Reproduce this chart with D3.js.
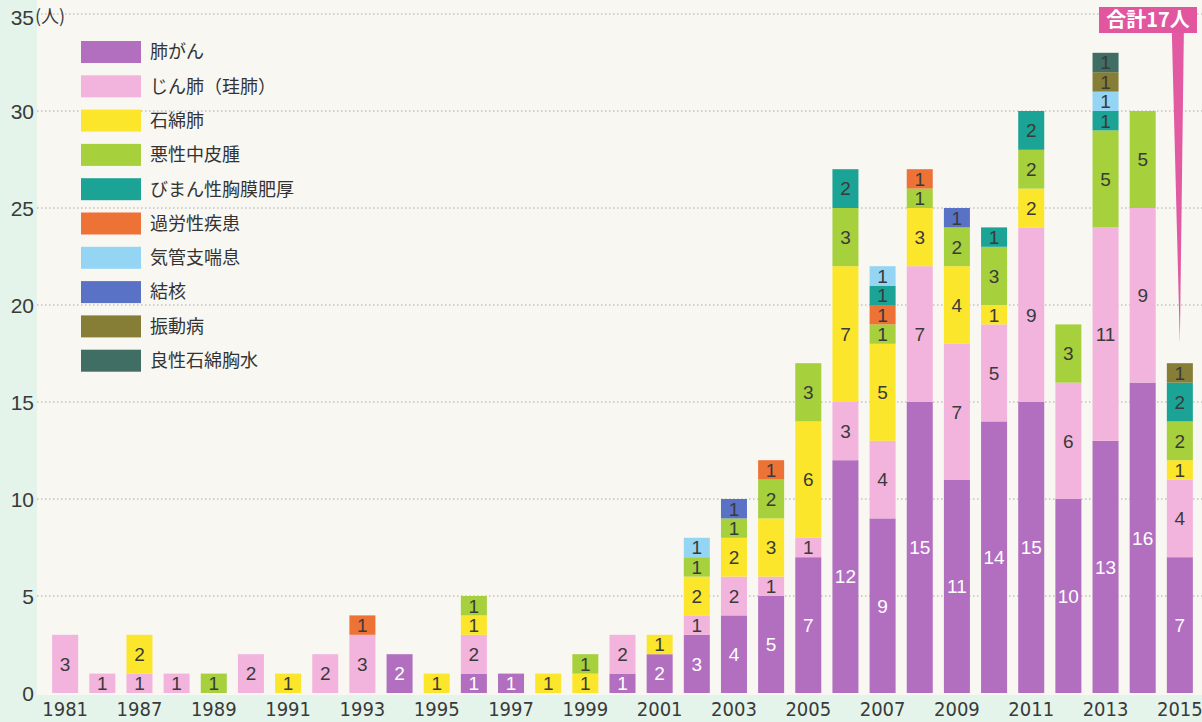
<!DOCTYPE html>
<html><head><meta charset="utf-8">
<script src="https://cdn.jsdelivr.net/npm/d3@7"></script>
<style>body{margin:0;background:#e4f4ea;} svg{display:block;}</style>
</head><body>
<svg id="chart" width="1202" height="722"></svg>
<script>
// ---- data ----
const years = [1981,1986,1987,1988,1989,1990,1991,1992,1993,1994,1995,1996,1997,1998,1999,2000,2001,2002,2003,2004,2005,2006,2007,2008,2009,2010,2011,2012,2013,2014,2015];
const categories = ["肺がん","じん肺（珪肺）","石綿肺","悪性中皮腫","びまん性胸膜肥厚","過労性疾患","気管支喘息","結核","振動病","良性石綿胸水"];
const lungCancer   = [0,0,0,0,0,0,0,0,0,2,0,1,1,0,0,1,2,3,4,5,7,12,9,15,11,14,15,10,13,16,7];
const pneumoconiosis=[3,1,1,1,0,2,0,2,3,0,0,2,0,0,0,2,0,1,2,1,1,3,4,7,7,5,9,6,11,9,4];
const asbestosis   = [0,0,2,0,0,0,1,0,0,0,1,1,0,1,1,0,1,2,2,3,6,7,5,3,4,1,2,0,0,0,1];
const mesothelioma = [0,0,0,0,1,0,0,0,0,0,0,1,0,0,1,0,0,1,1,2,3,3,1,1,2,3,2,3,5,5,2];
const pleuralThick = [0,0,0,0,0,0,0,0,0,0,0,0,0,0,0,0,0,0,0,0,0,2,1,0,0,1,2,0,1,0,2];
const overwork     = [0,0,0,0,0,0,0,0,1,0,0,0,0,0,0,0,0,0,0,1,0,0,1,1,0,0,0,0,0,0,0];
const asthma       = [0,0,0,0,0,0,0,0,0,0,0,0,0,0,0,0,0,1,0,0,0,0,1,0,0,0,0,0,1,0,0];
const tuberculosis = [0,0,0,0,0,0,0,0,0,0,0,0,0,0,0,0,0,0,1,0,0,0,0,0,1,0,0,0,0,0,0];
const vibration    = [0,0,0,0,0,0,0,0,0,0,0,0,0,0,0,0,0,0,0,0,0,0,0,0,0,0,0,0,1,0,1];
const pleuralEffusion=[0,0,0,0,0,0,0,0,0,0,0,0,0,0,0,0,0,0,0,0,0,0,0,0,0,0,0,0,1,0,0];
const seriesValues = [lungCancer,pneumoconiosis,asbestosis,mesothelioma,pleuralThick,overwork,asthma,tuberculosis,vibration,pleuralEffusion];
// stacking order exception (category indices bottom->top)
const orderOverrideYear = 2007;
const orderOverride = [0,1,2,3,5,4,6,7,8,9];
const xTickYears = [1981,1987,1989,1991,1993,1995,1997,1999,2001,2003,2005,2007,2009,2011,2013,2015];
const yTicks = [0,5,10,15,20,25,30,35];
const yUnit = "(人)";
const totalNote = "合計17人";
const noteYear = 2015;
const noteTotal = 17;

// ---- styles ----
const colors = ["#b26ebf","#f2b4dc","#fce62c","#a6d03c","#1ba396","#ec7236","#93d5f3","#5a72c6","#867d36","#406d64"];
const svg = d3.select("#chart");
const W = 1202, H = 722;
const x = d3.scaleBand().domain(years).range([41, 1204]).padding(0.3);
const y = d3.scaleLinear().domain([0,35]).range([693, 14]);

svg.append("rect").attr("width",W).attr("height",H).attr("fill","#e4f4ea");
svg.append("rect").attr("x",37).attr("y",0).attr("width",W-37).attr("height",695).attr("fill","#f8f7f2");

// grid
svg.append("g").selectAll("line").data(yTicks.filter(d=>d>0)).join("line")
  .attr("x1",37).attr("x2",W).attr("y1",d=>y(d)).attr("y2",d=>y(d))
  .attr("stroke","#a8a8a8").attr("stroke-width",1).attr("stroke-dasharray","1.5,2.5");

// y tick labels
svg.append("g").selectAll("text").data(yTicks).join("text")
  .attr("x",34).attr("y",d=>d===35 ? y(d)+3 : y(d)).attr("text-anchor","end").attr("dy","0.36em")
  .attr("font-family","Liberation Sans, Arial, sans-serif").attr("font-size",21).attr("fill","#3a3a3a")
  .text(d=>d);
svg.append("text").attr("x",35).attr("y",23)
  .attr("font-family","Noto Sans CJK JP, sans-serif").attr("font-size",18).attr("fill","#3a3a3a").text(yUnit);

// x labels
svg.append("g").selectAll("text").data(xTickYears).join("text")
  .attr("x",d=>x(d)+x.bandwidth()/2).attr("y",716).attr("text-anchor","middle")
  .attr("font-family","Liberation Sans Narrow, DejaVu Sans Condensed, sans-serif").attr("font-size",20).attr("fill","#3a3a3a")
  .text(d=>d);

// stacks
const segs = [];
years.forEach((yr,i)=>{
  const order = yr===orderOverrideYear ? orderOverride : d3.range(categories.length);
  let base = 0;
  order.forEach(c=>{
    const v = seriesValues[c][i];
    if(v>0){ segs.push({year:yr,cat:c,v:v,y0:base,y1:base+v}); base+=v; }
  });
});
const g = svg.append("g");
g.selectAll("rect").data(segs).join("rect")
  .attr("x",d=>x(d.year)).attr("width",x.bandwidth())
  .attr("y",d=>y(d.y1)).attr("height",d=>y(d.y0)-y(d.y1))
  .attr("fill",d=>colors[d.cat]);
g.selectAll("text").data(segs).join("text")
  .attr("x",d=>x(d.year)+x.bandwidth()/2).attr("y",d=>(y(d.y0)+y(d.y1))/2).attr("dy","0.36em")
  .attr("text-anchor","middle").attr("font-family","Liberation Sans, Arial, sans-serif").attr("font-size",19)
  .attr("fill",d=>d.cat===0?"#ffffff":"#3a3a3a").text(d=>d.v);

// legend
const lg = svg.append("g");
categories.forEach((c,i)=>{
  const cy = 52 + i*34.3;
  lg.append("rect").attr("x",81).attr("y",cy-11).attr("width",60).attr("height",22).attr("fill",colors[i]);
  lg.append("text").attr("x",150).attr("y",cy).attr("dy","0.35em")
    .attr("font-family","Noto Sans CJK JP, sans-serif").attr("font-size",18).attr("fill","#333").text(c);
});

// annotation
const tipX = x(noteYear)+x.bandwidth()/2;
const tipY = y(noteTotal)-20;
svg.append("polygon").attr("points",`${tipX-8},33 ${tipX+4},33 ${tipX},${tipY}`).attr("fill","#e25aa2");
svg.append("rect").attr("x",1099).attr("y",7).attr("width",98).attr("height",26).attr("fill","#e2559f");
svg.append("text").attr("x",1148).attr("y",20).attr("dy","0.36em").attr("text-anchor","middle")
  .attr("font-family","Noto Sans CJK JP, sans-serif").attr("font-weight","bold").attr("font-size",20)
  .attr("fill","#fff").text(totalNote);
</script>
</body></html>
